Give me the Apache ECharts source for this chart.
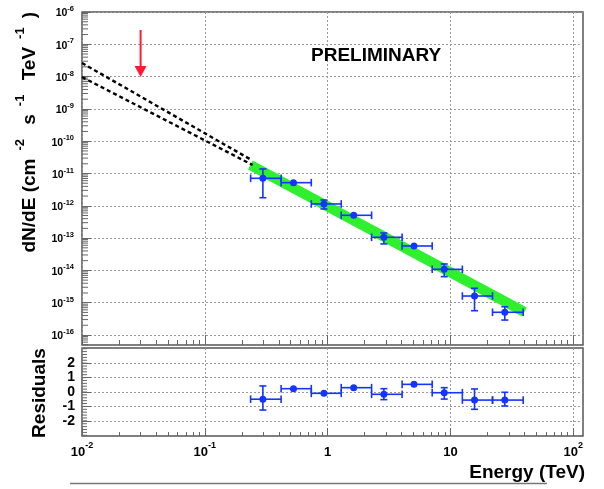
<!DOCTYPE html>
<html><head><meta charset="utf-8">
<script src="https://cdn.jsdelivr.net/npm/echarts@6/dist/echarts.min.js"></script>
<style>html,body{margin:0;padding:0;background:#fff}#c{width:604px;height:489px}</style>
</head><body><div id="c"></div>
<script>
// ---- data ----
const energy   = [0.297, 0.527, 0.933, 1.63, 2.87, 5.05, 8.9, 15.7, 27.7];
const binLow   = [0.236, 0.418, 0.736, 1.29, 2.28, 4.04, 7.10, 12.5, 22.0];
const binHigh  = [0.418, 0.736, 1.29, 2.28, 4.04, 7.10, 12.5, 22.0, 39.1];
const flux     = [7.1e-12, 5.2e-12, 1.14e-12, 5.08e-13, 1.06e-13, 5.7e-14, 1.08e-14, 1.61e-15, 5.05e-16];
const fluxLow  = [1.78e-12, 4.4e-12, 7.96e-13, 4.3e-13, 6.6e-14, 4.8e-14, 6.4e-15, 5.65e-16, 2.9e-16];
const fluxHigh = [1.38e-11, 6.1e-12, 1.51e-12, 6.0e-13, 1.44e-13, 6.7e-14, 1.58e-14, 2.79e-15, 7.5e-16];
const resid     = [-0.5, 0.23, -0.09, 0.3, -0.16, 0.53, -0.05, -0.56, -0.56];
const residLow  = [-1.25, 0.08, -0.23, 0.15, -0.53, 0.38, -0.49, -1.2, -0.97];
const residHigh = [0.42, 0.38, 0.05, 0.45, 0.23, 0.68, 0.3, 0.21, -0.02];
const bandE = [0.235, 40];
const bandF = [1.83e-11, 5.15e-16];
const extrapUpperE = [0.01, 0.24];
const extrapUpperF = [2.64e-8, 2.62e-11];
const extrapLowerE = [0.01, 0.245];
const extrapLowerF = [9.7e-9, 1.83e-11];
const ulE = [0.03];
const ulTop = [2.77e-7];
const ulF = [9.7e-9];
const xTicks = [0.01, 0.1, 1, 10, 100];
const yTicks = [1e-16, 1e-15, 1e-14, 1e-13, 1e-12, 1e-11, 1e-10, 1e-9, 1e-8, 1e-7, 1e-6];
const resTicks = [-2, -1, 0, 1, 2];

// minor tick positions (log 2..9 per decade, linear 0.2 steps)
function logMinor(e0, e1) { const r = []; for (let k = e0; k <= e1; k++) for (let m = 2; m <= 9; m++) r.push(m * Math.pow(10, k)); return r; }
const xMinor = logMinor(-2, 2);
const yMinor = logMinor(-17, -7);
const resMinor = []; for (let i = -15; i <= 15; i++) resMinor.push(+(i * 0.2).toFixed(1));

const BLUE = '#1434ff', GREEN = '#2ef02e', RED = '#ff1a30';
const FONT = 'Liberation Sans';
const GRID_LINE = { show: true, lineStyle: { color: '#9a9a9a', width: 1, type: [2, 2] } };
const TICK_COLOR = '#666';
const NO_LINE = { show: false, onZero: false };

function expLabel(v) {
  const e = Math.round(Math.log10(v));
  if (e === 0) return '{b|1}';
  if (e === 1) return '{b|10}';
  return '{b|10}{s|' + e + '}';
}

function errRender(params, api) {
  const x = api.value(0), y = api.value(1), lo = api.value(2), hi = api.value(3), xl = api.value(4), xh = api.value(5);
  const c = api.coord([x, y]), l = api.coord([xl, y]), r = api.coord([xh, y]);
  const t = api.coord([x, hi]), b = api.coord([x, lo]);
  const st = { stroke: BLUE, lineWidth: 1.6 };
  const cap = 3.8, capY = 3.5;
  const ch = [
    { type: 'line', shape: { x1: l[0], y1: c[1], x2: r[0], y2: c[1] }, style: st },
    { type: 'line', shape: { x1: l[0], y1: c[1] - cap, x2: l[0], y2: c[1] + cap }, style: st },
    { type: 'line', shape: { x1: r[0], y1: c[1] - cap, x2: r[0], y2: c[1] + cap }, style: st }
  ];
  if (c[1] - t[1] > 3.6) {
    ch.push({ type: 'line', shape: { x1: c[0], y1: t[1], x2: c[0], y2: c[1] }, style: st });
    ch.push({ type: 'line', shape: { x1: c[0] - capY, y1: t[1], x2: c[0] + capY, y2: t[1] }, style: st });
  }
  if (b[1] - c[1] > 3.6) {
    ch.push({ type: 'line', shape: { x1: c[0], y1: c[1], x2: c[0], y2: b[1] }, style: st });
    ch.push({ type: 'line', shape: { x1: c[0] - capY, y1: b[1], x2: c[0] + capY, y2: b[1] }, style: st });
  }
  ch.push({ type: 'circle', shape: { cx: c[0], cy: c[1], r: 3.5 }, style: { fill: BLUE } });
  return { type: 'group', children: ch };
}

function arrowRender(params, api) {
  const top = api.coord([api.value(0), api.value(1)]);
  const tip = api.coord([api.value(0), api.value(2)]);
  const hw = 6, hh = 11;
  return { type: 'group', children: [
    { type: 'line', shape: { x1: top[0], y1: top[1], x2: tip[0], y2: tip[1] - hh + 1 }, style: { stroke: RED, lineWidth: 2 } },
    { type: 'polygon', shape: { points: [[tip[0], tip[1]], [tip[0] - hw, tip[1] - hh], [tip[0] + hw, tip[1] - hh]] }, style: { fill: RED } }
  ] };
}

// minor y tick drawn at the left frame through the axis scale
function minorTickRenderer(len) {
  return function (params, api) {
    const p = api.coord([api.value(0), api.value(1)]);
    const cs = params.coordSys;
    if (p[1] < cs.y - 0.5 || p[1] > cs.y + cs.height + 0.5) return null;
    return { type: 'line', shape: { x1: cs.x, y1: p[1], x2: cs.x + len, y2: p[1] }, style: { stroke: TICK_COLOR, lineWidth: 1 } };
  };
}

const pointData = energy.map((e, i) => [e, flux[i], fluxLow[i], fluxHigh[i], binLow[i], binHigh[i]]);
const residData = energy.map((e, i) => [e, resid[i], residLow[i], residHigh[i], binLow[i], binHigh[i]]);

const chart = echarts.init(document.getElementById('c'), null, { renderer: 'canvas' });
const option = {
  animation: false,
  backgroundColor: '#fff',
  textStyle: { fontFamily: FONT },
  grid: [
    { left: 82, top: 12, width: 501, height: 333, show: true, borderColor: '#555', borderWidth: 1.5, backgroundColor: 'transparent', containLabel: false, outerBoundsMode: 'none' },
    { left: 82, top: 348, width: 501, height: 88, show: true, borderColor: '#555', borderWidth: 1.5, backgroundColor: 'transparent', containLabel: false, outerBoundsMode: 'none' }
  ],
  xAxis: [
    { type: 'log', gridIndex: 0, position: 'bottom', min: 0.01, max: 120, axisLine: NO_LINE,
      axisTick: { show: true, inside: true, length: 10, customValues: xTicks, lineStyle: { color: TICK_COLOR } },
      axisLabel: { show: false }, splitLine: GRID_LINE },
    { type: 'log', gridIndex: 0, position: 'bottom', offset: 0, min: 0.01, max: 120, axisLine: NO_LINE,
      axisTick: { show: true, inside: true, length: 5, customValues: xMinor, lineStyle: { color: TICK_COLOR } },
      axisLabel: { show: false }, splitLine: { show: false } },
    { type: 'log', gridIndex: 1, position: 'bottom', min: 0.01, max: 120, axisLine: NO_LINE,
      axisTick: { show: true, inside: true, length: 8, customValues: xTicks, lineStyle: { color: TICK_COLOR } },
      axisLabel: { show: true, customValues: xTicks, margin: 5, formatter: expLabel,
        rich: { b: { fontFamily: FONT, fontSize: 13, fontWeight: 'bold', color: '#000', lineHeight: 18, verticalAlign: 'bottom' },
                s: { fontFamily: FONT, fontSize: 9, fontWeight: 'bold', color: '#000', lineHeight: 7, verticalAlign: 'top' } } },
      splitLine: GRID_LINE },
    { type: 'log', gridIndex: 1, position: 'bottom', offset: 0, min: 0.01, max: 120, axisLine: NO_LINE,
      axisTick: { show: true, inside: true, length: 4, customValues: xMinor, lineStyle: { color: TICK_COLOR } },
      axisLabel: { show: false }, splitLine: { show: false } }
  ],
  yAxis: [
    { type: 'log', gridIndex: 0, position: 'left', min: 4.9e-17, max: 1e-6, axisLine: NO_LINE,
      axisTick: { show: true, inside: true, length: 9, customValues: yTicks, lineStyle: { color: TICK_COLOR } },
      axisLabel: { show: true, customValues: yTicks, margin: 8, formatter: expLabel,
        rich: { b: { fontFamily: FONT, fontSize: 10.5, fontWeight: 'bold', color: '#000', lineHeight: 14, verticalAlign: 'bottom' },
                s: { fontFamily: FONT, fontSize: 7.5, fontWeight: 'bold', color: '#000', lineHeight: 5, verticalAlign: 'top' } } },
      splitLine: GRID_LINE },
    { type: 'value', gridIndex: 1, position: 'left', min: -3.05, max: 3.05, axisLine: NO_LINE,
      axisTick: { show: true, inside: true, length: 9, customValues: resTicks, lineStyle: { color: TICK_COLOR } },
      axisLabel: { show: true, customValues: resTicks, margin: 7, fontFamily: FONT, fontSize: 14, fontWeight: 'bold', color: '#000' },
      splitLine: GRID_LINE }
  ],
  series: [
    { type: 'custom', xAxisIndex: 0, yAxisIndex: 0, renderItem: minorTickRenderer(6), silent: true,
      data: yMinor.map(v => [xTicks[0], v]), encode: { x: 0, y: 1 }, z: 1 },
    { type: 'custom', xAxisIndex: 2, yAxisIndex: 1, renderItem: minorTickRenderer(5), silent: true,
      data: resMinor.map(v => [xTicks[0], v]), encode: { x: 0, y: 1 }, z: 1 },
    { type: 'line', xAxisIndex: 0, yAxisIndex: 0, data: bandE.map((e, i) => [e, bandF[i]]), symbol: 'none',
      lineStyle: { color: GREEN, width: 10, cap: 'butt' }, z: 2 },
    { type: 'line', xAxisIndex: 0, yAxisIndex: 0, data: extrapUpperE.map((e, i) => [e, extrapUpperF[i]]), symbol: 'none',
      lineStyle: { color: '#000', width: 2.4, type: [4, 3] }, z: 3 },
    { type: 'line', xAxisIndex: 0, yAxisIndex: 0, data: extrapLowerE.map((e, i) => [e, extrapLowerF[i]]), symbol: 'none',
      lineStyle: { color: '#000', width: 2.4, type: [4, 3] }, z: 3 },
    { type: 'custom', xAxisIndex: 0, yAxisIndex: 0, renderItem: arrowRender,
      data: ulE.map((e, i) => [e, ulTop[i], ulF[i]]), encode: { x: 0, y: [1, 2] }, z: 4 },
    { type: 'custom', xAxisIndex: 0, yAxisIndex: 0, renderItem: errRender, data: pointData,
      encode: { x: [0, 4, 5], y: [1, 2, 3] }, z: 5 },
    { type: 'custom', xAxisIndex: 2, yAxisIndex: 1, renderItem: errRender, data: residData,
      encode: { x: [0, 4, 5], y: [1, 2, 3] }, z: 5 }
  ],
  graphic: [
    { type: 'text', x: 311, y: 56, z: 10,
      style: { text: 'PRELIMINARY', font: 'bold 19px "' + FONT + '"', fill: '#000', align: 'left', verticalAlign: 'middle', textAlign: 'left', textVerticalAlign: 'middle' } },
    { type: 'text', x: 585, y: 473, z: 10,
      style: { text: 'Energy (TeV)', font: 'bold 19px "' + FONT + '"', fill: '#000', align: 'right', verticalAlign: 'middle', textAlign: 'right', textVerticalAlign: 'middle' } },
    { type: 'text', x: 39.5, y: 393, rotation: Math.PI / 2, z: 10,
      style: { text: 'Residuals', font: 'bold 19px "' + FONT + '"', fill: '#000', align: 'center', verticalAlign: 'middle', textAlign: 'center', textVerticalAlign: 'middle' } },
    { type: 'text', x: 26.5, y: 12, rotation: Math.PI / 2, z: 10,
      style: { text: '{b|dN/dE (cm}{s|-2}{b| s}{s|-1}{b| TeV}{s|-1}{b|)}', fill: '#000',
        align: 'right', verticalAlign: 'middle', textAlign: 'right', textVerticalAlign: 'middle',
        rich: { b: { fontFamily: FONT, fontSize: 19, fontWeight: 'bold', fill: '#000', color: '#000', lineHeight: 26, verticalAlign: 'bottom' },
                s: { fontFamily: FONT, fontSize: 13, fontWeight: 'bold', fill: '#000', color: '#000', lineHeight: 16, verticalAlign: 'top', padding: [0, 9, 0, 8] } } } },
    { type: 'line', z: 10, shape: { x1: 70, y1: 483.5, x2: 547, y2: 483.5 }, style: { stroke: '#777', lineWidth: 1.5 } }
  ]
};
chart.setOption(option);
</script>
</body></html>
